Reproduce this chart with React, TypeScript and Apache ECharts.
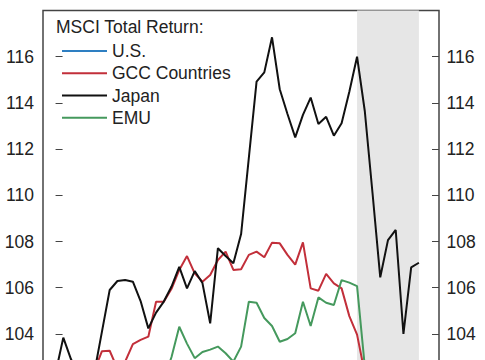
import React, { useEffect, useRef } from "react";
import * as echarts from "echarts";

// month index 0..47 (index 39..47 = shaded period)
const seriesNames = ["U.S.", "GCC Countries", "Japan", "EMU"];
const seriesColors = ["#2e7fc2", "#c22f3a", "#111111", "#45995d"];

const usValues = [
  100.6, 100.9, 101.2, 100.8, 101.1, 101.4, 101.0, 101.3, 101.7, 101.5, 101.2, 100.9,
  101.3, 101.6, 101.9, 102.1, 101.8, 101.5, 101.9, 102.2, 101.6, 102.0, 102.3, 102.1,
  102.4, 102.2, 102.5, 102.3, 102.6, 102.1, 101.8, 102.0, 102.3, 102.5, 102.2, 102.4,
  102.6, 102.3, 102.5, 102.7, 100.2, 98.6, 99.4, 100.3, 101.0, 99.8, 100.9, 101.5,
];
const gccValues = [
  101.8, 102.2, 101.9, 102.1, 102.3, 102.4, 103.25, 103.27, 102.5, 102.8, 103.56, 103.74,
  103.88, 105.39, 105.39, 105.95, 106.77, 107.37, 106.62, 106.26, 106.55, 107.2, 107.56, 106.77,
  106.8, 107.42, 107.56, 107.32, 107.95, 107.92, 107.42, 107.0, 107.96, 105.97, 105.87, 106.6,
  106.19, 105.97, 104.77, 103.97, 102.3, 100.8, 99.5, 100.2, 100.8, 100.4, 101.0, 101.3,
];
const japanValues = [
  102.3, 103.84, 102.9, 102.3, 102.0, 102.3, 104.1, 105.9, 106.29, 106.33, 106.26, 105.42,
  104.24, 104.92, 105.4, 106.05, 106.9, 105.97, 106.72, 106.2, 104.46, 107.71, 107.37, 107.06,
  108.32, 111.62, 114.92, 115.32, 116.84, 114.59, 113.52, 112.51, 113.48, 114.23, 113.09, 113.4,
  112.58, 113.12, 114.48, 116.0, 113.65, 110.1, 106.45, 108.06, 108.5, 104.0, 106.88, 107.08,
];
const emuValues = [
  100.8, 101.2, 100.9, 101.1, 100.7, 101.0, 101.4, 101.8, 101.5, 101.2, 101.6, 101.9,
  101.7, 101.4, 102.0, 103.0, 104.31, 103.58, 102.95, 103.22, 103.32, 103.45, 103.16, 102.8,
  103.45, 105.39, 105.35, 104.69, 104.34, 103.66, 103.78, 104.03, 105.39, 104.34, 105.58, 105.35,
  105.25, 106.33, 106.22, 106.07, 102.6, 99.5, 98.8, 99.6, 100.2, 99.7, 100.5, 100.9,
];
const shadedRange = [39, 47];
const yTicks = { min: 100, max: 118, interval: 2 };
const lowestVisibleLabel = 104;

const FONT = "Liberation Sans";

export default function App() {
  const ref = useRef<HTMLDivElement>(null);
  useEffect(() => {
    document.body.style.margin = "0";
    if (!ref.current) return;
    const chart = echarts.init(ref.current, undefined, { renderer: "svg" });
    const all = [usValues, gccValues, japanValues, emuValues];
    const series: any[] = all.map((vals, k) => ({
      name: seriesNames[k],
      type: "line",
      data: vals.map((v, i) => [i, v]),
      showSymbol: false,
      symbol: "none",
      z: 3,
      lineStyle: { color: seriesColors[k], width: 2 },
      itemStyle: { color: seriesColors[k] },
    }));
    series[0].markArea = {
      silent: true,
      itemStyle: { color: "#e6e6e6" },
      data: [[{ xAxis: shadedRange[0] }, { xAxis: shadedRange[1] }]],
    };
    series[0].z = 1;
    const labelFormatter = (v: number) => (v < lowestVisibleLabel ? "" : String(v));
    const yAxisBase = {
      type: "value",
      min: yTicks.min,
      max: yTicks.max,
      interval: yTicks.interval,
      splitLine: { show: false },
      axisLine: { show: false },
      axisTick: { show: true, inside: true, length: 7, lineStyle: { color: "#444", width: 1 } },
    };
    chart.setOption({
      animation: false,
      backgroundColor: "#ffffff",
      textStyle: { fontFamily: FONT },
      title: {
        text: "MSCI Total Return:",
        left: 56,
        top: 18,
        padding: 0,
        textStyle: { fontFamily: FONT, fontSize: 17.5, fontWeight: "normal", color: "#222" },
      },
      legend: {
        orient: "vertical",
        left: 62,
        top: 40,
        padding: 0,
        itemGap: 0,
        itemWidth: 45,
        itemHeight: 2,
        icon: "rect",
        data: seriesNames,
        textStyle: { fontFamily: FONT, fontSize: 17.5, color: "#222", lineHeight: 22.2 },
      },
      grid: {
        left: 43,
        top: 10.5,
        width: 396,
        height: 415.8,
        show: true,
        borderColor: "#444",
        borderWidth: 1.5,
        outerBoundsMode: "none",
        containLabel: false,
      },
      xAxis: {
        type: "value",
        min: -1.626,
        max: 49.6,
        show: false,
      },
      yAxis: [
        {
          ...yAxisBase,
          position: "left",
          axisLabel: { showMaxLabel: false, margin: 9, fontFamily: FONT, fontSize: 17.5, color: "#222", formatter: labelFormatter },
        },
        {
          ...yAxisBase,
          position: "right",
          axisLabel: { showMaxLabel: false, margin: 7.5, fontFamily: FONT, fontSize: 17.5, color: "#222", formatter: labelFormatter },
        },
      ],
      series,
    });
    return () => chart.dispose();
  }, []);
  return <div ref={ref} style={{ width: 485, height: 360 }} />;
}
